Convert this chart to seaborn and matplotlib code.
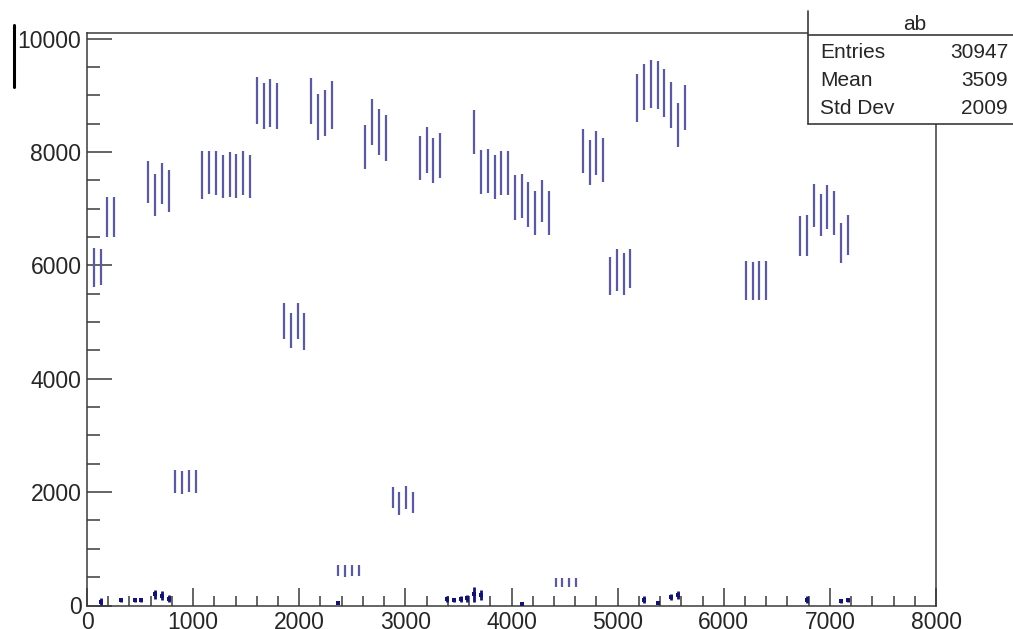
import numpy as np
import pandas as pd
import matplotlib
matplotlib.use("Agg")
import matplotlib.pyplot as plt
import seaborn as sns
from matplotlib.lines import Line2D
from matplotlib.patches import Rectangle
from matplotlib.ticker import MultipleLocator

# ---- histogram "ab": filled bins (centre, content, error) ----
bin_x = [
    64, 128, 192, 256,
    576, 640, 704, 768,
    832, 896, 960, 1024,
    1088, 1152, 1216, 1280, 1344, 1408, 1472, 1536,
    1600, 1664, 1728, 1792,
    1856, 1920, 1984, 2048,
    2112, 2176, 2240, 2304,
    2368, 2432, 2496, 2560,
    2624, 2688, 2752, 2816,
    2880, 2944, 3008, 3072,
    3136, 3200, 3264, 3328,
    3648, 3712, 3776, 3840, 3904, 3968, 4032, 4096, 4160, 4224, 4288, 4352,
    4416, 4480, 4544, 4608,
    4672, 4736, 4800, 4864,
    4928, 4992, 5056, 5120,
    5184, 5248, 5312, 5376, 5440, 5504, 5568, 5632,
    6208, 6272, 6336, 6400,
    6720, 6784, 6848, 6912, 6976, 7040, 7104, 7168,
]
counts = [
    5960, 5970, 6850, 6855,
    7470, 7245, 7445, 7305,
    2190, 2165, 2195, 2185,
    7590, 7640, 7625, 7570, 7610, 7575, 7625, 7570,
    8910, 8820, 8865, 8820,
    5020, 4845, 5020, 4835,
    8895, 8620, 8690, 8835,
    615, 610, 618, 612,
    8085, 8525, 8350, 8250,
    1905, 1805, 1900, 1810,
    7890, 8035, 7845, 7945,
    8355, 7650, 7665, 7565, 7625, 7625, 7195, 7225, 7080, 6920, 7140, 6920,
    400, 398, 402, 400,
    8015, 7820, 7980, 7860,
    5815, 5920, 5850, 5940,
    8955, 9150, 9205, 9180, 9040, 8835, 8480, 8780,
    5730, 5725, 5735, 5730,
    6520, 6525, 7060, 6890, 7035, 6920, 6395, 6535,
]
errors = [
    345, 320, 355, 355,
    370, 370, 370, 370,
    200, 200, 200, 200,
    425, 385, 385, 380, 395, 390, 385, 380,
    420, 405, 420, 405,
    310, 310, 315, 320,
    405, 400, 410, 420,
    100, 100, 100, 100,
    390, 405, 405, 405,
    190, 205, 205, 185,
    385, 400, 400, 395,
    395, 385, 385, 385, 385, 385, 395, 395, 395, 385, 370, 385,
    80, 80, 80, 80,
    385, 400, 385, 385,
    340, 365, 375, 345,
    420, 410, 420, 425, 420, 405, 390, 400,
    340, 340, 340, 340,
    355, 365, 375, 370, 385, 385, 360, 355,
]

# ---- low-content bins drawn on top (dark navy) ----
low_x = [128, 320, 448, 512, 640, 704, 768, 2368,
         3392, 3456, 3520, 3584, 3648, 3712, 4096,
         5248, 5376, 5504, 5568, 6784, 7104, 7168]
low_y = [70, 90, 100, 90, 200, 170, 120, 50,
         120, 100, 110, 130, 200, 180, 30,
         100, 40, 150, 180, 100, 80, 90]
low_err = [60, 30, 40, 30, 80, 80, 60, 30,
           50, 30, 50, 60, 130, 90, 20,
           60, 20, 60, 70, 60, 30, 30]

stats_title = "ab"
stats_rows = [("Entries", "30947"), ("Mean", "3509"), ("Std Dev", "2009")]

x_range = (0, 8000)
y_range = (0, 10100)

BAR = "#5a5a9c"
LOW = "#14146e"
FRAME = "#3a3a3a"
TEXT = "#262626"

sns.set_theme(style="white")
plt.rcParams["font.family"] = ["Liberation Sans", "DejaVu Sans"]

W, H = 1013, 629
fig = plt.figure(figsize=(W / 100, H / 100), dpi=100)
fig.patch.set_facecolor("white")
ax = fig.add_axes([87 / W, 1 - 605.5 / H, (936 - 87) / W, (605.5 - 33) / H])
ax.set_facecolor("white")

hist = pd.DataFrame({"x": bin_x, "y": counts, "err": errors})
low = pd.DataFrame({"x": low_x, "y": low_y, "err": low_err})

# error bars of the main histogram
ax.vlines(hist["x"], hist["y"] - hist["err"], hist["y"] + hist["err"],
          color=BAR, lw=1.6, zorder=3)

# low-content bins
ax.vlines(low["x"], np.clip(low["y"] - low["err"], 0, None), low["y"] + low["err"],
          color=LOW, lw=2.0, zorder=4)
sns.scatterplot(data=low, x="x", y="y", marker="s", s=10, color=LOW,
                linewidth=0, ax=ax, zorder=4, legend=False)

ax.set_xlim(*x_range)
ax.set_ylim(*y_range)
ax.set_xlabel("")
ax.set_ylabel("")

ax.xaxis.set_major_locator(MultipleLocator(1000))
ax.xaxis.set_minor_locator(MultipleLocator(200))
ax.yaxis.set_major_locator(MultipleLocator(2000))
ax.yaxis.set_minor_locator(MultipleLocator(500))

ax.tick_params(axis="both", which="both", direction="in", colors=FRAME,
               labelcolor=TEXT, labelsize=16.5, width=1.1,
               top=False, right=False, bottom=True, left=True)
ax.tick_params(axis="x", which="major", length=13, pad=4)
ax.tick_params(axis="x", which="minor", length=7)
ax.tick_params(axis="y", which="major", length=18, pad=4)
ax.tick_params(axis="y", which="minor", length=9.5)

for side in ["left", "right", "top", "bottom"]:
    ax.spines[side].set_visible(True)
    ax.spines[side].set_color(FRAME)
    ax.spines[side].set_linewidth(1.1)

# statistics box (upper right, partly off the canvas)
bx0, bx1 = 808, 1020
by_top, by_sep, by_bot = 11, 35, 124
fig.add_artist(Rectangle((bx0 / W, 1 - by_bot / H), (bx1 - bx0) / W,
                         (by_bot - by_top) / H, transform=fig.transFigure,
                         facecolor="white", edgecolor="none", zorder=5))
for xs, ys in [((bx0, bx0), (by_top, by_bot)),
               ((bx0, bx1), (by_sep, by_sep)),
               ((bx0, bx1), (by_bot, by_bot))]:
    fig.add_artist(Line2D([x / W for x in xs], [1 - y / H for y in ys],
                          transform=fig.transFigure, color=FRAME, lw=1.2, zorder=6))

fig.text(915 / W, 1 - 24 / H, stats_title, ha="center", va="center",
         fontsize=15, color=TEXT, zorder=7)
for (label, value), yc in zip(stats_rows, [52, 81, 109]):
    fig.text(820 / W, 1 - yc / H, label, ha="left", va="center",
             fontsize=15, color=TEXT, zorder=7)
    fig.text(1008 / W, 1 - yc / H, value, ha="right", va="center",
             fontsize=15, color=TEXT, zorder=7)

# editing cursor mark at the upper left
fig.add_artist(Line2D([14 / W, 14 / W], [1 - 25 / H, 1 - 87 / H],
                      transform=fig.transFigure, color="black", lw=2.2, zorder=6))

fig.savefig("out.png", dpi=100, facecolor="white")
